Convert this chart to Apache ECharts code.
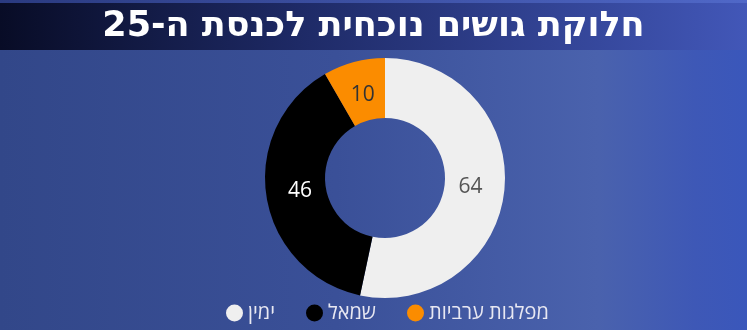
<!DOCTYPE html>
<html><head><meta charset="utf-8">
<script src="https://cdn.jsdelivr.net/npm/echarts@6/dist/echarts.min.js"></script>
<style>html,body{margin:0;padding:0;}#c{width:747px;height:330px;}</style>
</head><body><div id="c"></div>
<script>
const titleText = 'חלוקת גושים נוכחית לכנסת ה-25';
const categories = ['ימין', 'שמאל', 'מפלגות ערביות'];
const seats = [64, 46, 10];
const colors = ['#efefef', '#000000', '#fb8c00'];
const labelColors = ['#555555', '#ffffff', '#333333'];

const chart = echarts.init(document.getElementById('c'), null, {renderer: 'canvas'});
chart.setOption({
  backgroundColor: {
    type: 'linear', x: 0, y: 0, x2: 1, y2: 0,
    colorStops: [
      {offset: 0, color: '#324789'},
      {offset: 0.45, color: '#3a5098'},
      {offset: 0.8, color: '#4a62ad'},
      {offset: 0.93, color: '#3e58b6'},
      {offset: 1, color: '#3a57bb'}
    ]
  },
  animation: false,
  graphic: [
    {type: 'rect', shape: {x: 0, y: 0, width: 747, height: 50}, z: 0,
      style: {fill: {type: 'linear', x: 0, y: 0, x2: 1, y2: 0,
        colorStops: [{offset: 0, color: '#080c26'}, {offset: 0.4, color: '#1e2a66'}, {offset: 1, color: '#4257b8'}]}}},
    {type: 'rect', shape: {x: 0, y: 0, width: 747, height: 3}, z: 1,
      style: {fill: {type: 'linear', x: 0, y: 0, x2: 1, y2: 0,
        colorStops: [{offset: 0, color: '#2a3a80'}, {offset: 1, color: '#5068c8'}]}}}
  ],
  title: {
    text: titleText, left: 'center', top: 4,
    textStyle: {color: '#ffffff', fontSize: 35, fontWeight: 900, fontFamily: 'DejaVu Sans'}
  },
  legend: {
    bottom: 2, left: 221, icon: 'circle', itemWidth: 17, itemHeight: 17, itemGap: 31,
    textStyle: {color: '#e8e8f2', fontSize: 20, fontFamily: 'Open Sans, DejaVu Sans'},
    data: categories
  },
  series: [{
    type: 'pie', radius: [60, 120], center: [385, 178], startAngle: 90, clockwise: true,
    avoidLabelOverlap: false,
    label: {show: false},
    labelLine: {show: false},
    data: categories.map((n, i) => ({name: n, value: seats[i], itemStyle: {color: colors[i]}}))
  }, {
    type: 'pie', radius: [60, 106], center: [385, 178], startAngle: 90, clockwise: true,
    avoidLabelOverlap: false, silent: true, z: 3,
    itemStyle: {color: 'rgba(0,0,0,0)'},
    label: {show: true, position: 'inside', fontSize: 21, fontFamily: 'Open Sans, Noto Sans',
      formatter: p => p.value},
    labelLine: {show: false},
    data: categories.map((n, i) => ({name: n, value: seats[i],
      itemStyle: {color: 'rgba(0,0,0,0)'}, label: {color: labelColors[i]}}))
  }]
});
</script></body></html>
